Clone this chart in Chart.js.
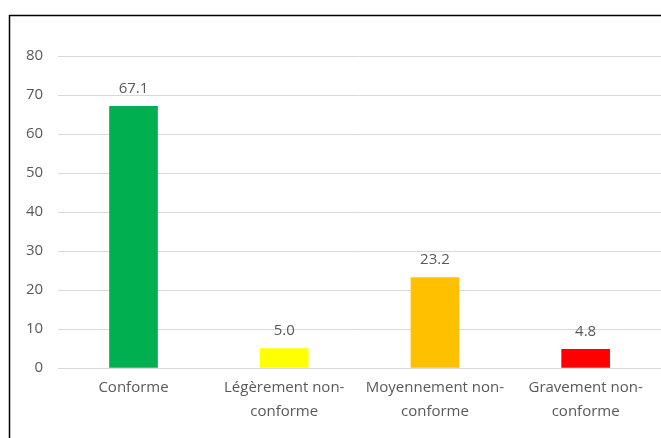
<!DOCTYPE html>
<html><head><meta charset="utf-8">
<script src="https://cdn.jsdelivr.net/npm/chart.js@4.4.1/dist/chart.umd.min.js"></script>
<style>html,body{margin:0;padding:0;background:#fff}#wrap{position:absolute;left:0;top:0;width:661px;height:438px}</style>
</head><body><div id="wrap"><canvas id="c" width="661" height="438"></canvas></div>
<script>
const categories = ["Conforme", ["Légèrement non-", "conforme"], ["Moyennement non-", "conforme"], ["Gravement non-", "conforme"]];
const values = [67.1, 5.0, 23.2, 4.8];
const barColors = ["#00B050", "#FFFF00", "#FFC000", "#FF0000"];
const yTicks = [0, 10, 20, 30, 40, 50, 60, 70, 80];

const FONT = "'Open Sans', 'Liberation Sans', sans-serif";

const framePlugin = {
  id: 'frame',
  afterDraw(chart) {
    const ctx = chart.ctx;
    ctx.save();
    ctx.strokeStyle = '#000';
    ctx.lineWidth = 1.5;
    ctx.beginPath();
    ctx.moveTo(9.5, 438);
    ctx.lineTo(9.5, 15.5);
    ctx.lineTo(661, 15.5);
    ctx.stroke();
    ctx.restore();
  }
};
const labelPlugin = {
  id: 'vals',
  afterDatasetsDraw(chart) {
    const ctx = chart.ctx;
    const meta = chart.getDatasetMeta(0);
    ctx.save();
    ctx.fillStyle = '#595959';
    ctx.font = "15px " + FONT;
    ctx.textAlign = 'center';
    ctx.textBaseline = 'bottom';
    meta.data.forEach((bar, i) => {
      ctx.fillText(values[i].toFixed(1), bar.x, bar.y - 10);
    });
    ctx.restore();
  }
};

new Chart(document.getElementById('c'), {
  type: 'bar',
  data: { labels: categories, datasets: [{ data: values, backgroundColor: barColors, barThickness: 48 }] },
  options: {
    responsive: false,
    animation: false,
    layout: { padding: { left: 11, right: 0, top: 56, bottom: 6 } },
    plugins: { legend: { display: false }, tooltip: { enabled: false } },
    scales: {
      x: {
        grid: { display: false, drawTicks: false },
        border: { color: '#D9D9D9', width: 1 },
        ticks: { color: '#595959', font: { family: FONT, size: 15, lineHeight: 1.6 }, padding: 8, maxRotation: 0, autoSkip: false }
      },
      y: {
        min: 0, max: 80,
        afterBuildTicks(axis) { axis.ticks = yTicks.map(v => ({ value: v })); },
        grid: { color: '#D9D9D9', drawTicks: false },
        border: { display: false },
        ticks: { color: '#595959', font: { family: FONT, size: 15 }, padding: 15 }
      }
    }
  },
  plugins: [framePlugin, labelPlugin]
});
</script></body></html>
